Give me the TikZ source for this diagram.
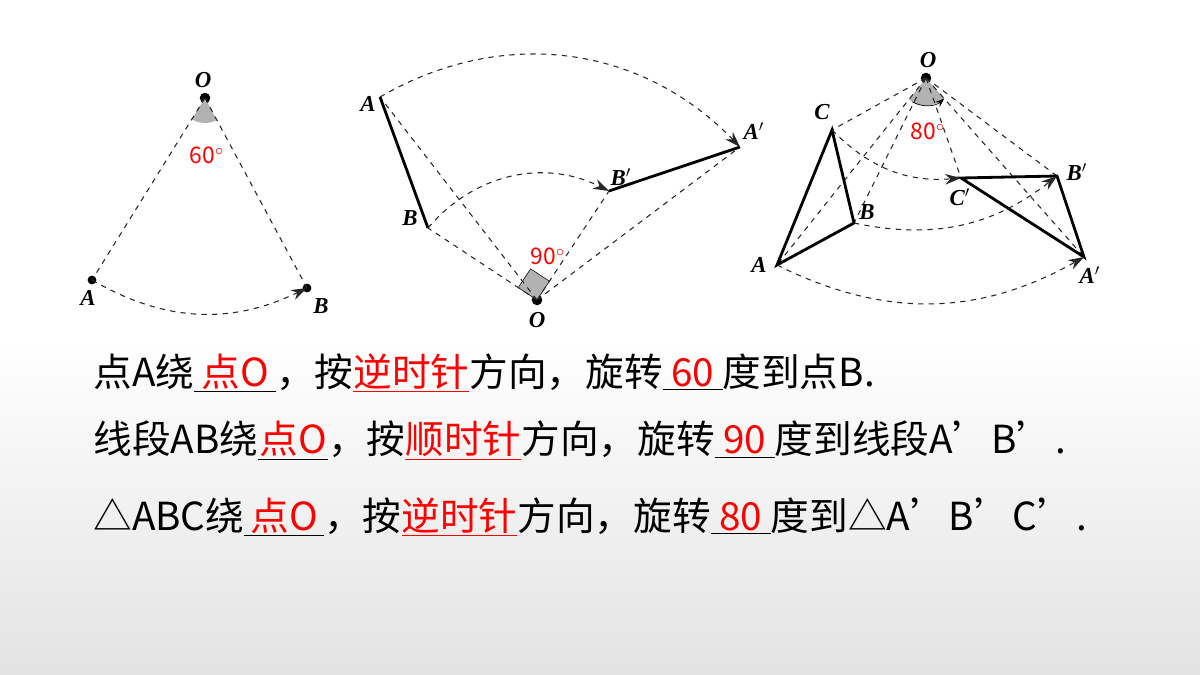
\documentclass[tikz,border=0pt]{standalone}
\usepackage{fontspec}
\setmainfont{Noto Sans CJK SC}
\newfontfamily\labfont{Liberation Serif}
\usetikzlibrary{arrows.meta}
\tikzset{
  pt/.style={circle,fill=black,inner sep=0pt,minimum size=6pt},
  lab/.style={font=\labfont\bfseries\itshape\fontsize{13}{13}\selectfont},
  ang/.style={text=red,font=\fontsize{13}{13}\selectfont},
  guide/.style={dashed,gray!30!black,line width=0.6pt},
  turn/.style={guide,-{Stealth[length=9pt,width=6pt]}},
  seg/.style={line width=1.6pt},
  row/.style={anchor=west,inner sep=0pt,font=\fontsize{22}{22}\selectfont}
}
\newcommand{\blank}[2]{\underline{\makebox[#1][c]{\textcolor{red}{#2}}}}
\begin{document}
\begin{tikzpicture}[x=0.02cm,y=-0.02cm]
\shade[top color=white,bottom color=gray!22,middle color=white] (0,0) rectangle (1200,675);
% first figure
\node[pt] (o1) at (205,98) {};
\node[pt,minimum size=5pt] (a1) at (92,280) {};
\node[pt,minimum size=5pt] (b1) at (307,288) {};
\fill[gray!60] (o1.center) -- ++(238.2:0.5cm) arc (238.2:298.2:0.5cm) -- cycle;
\node[lab] at (203,80) {O};
\node[lab] at (88,298) {A};
\node[lab] at (321,306) {B};
\node[ang] at (207,155) {60$^\circ$};
\draw[guide] (o1.center) -- (a1.center);
\draw[guide] (o1.center) -- (b1.center);
\draw[turn] (a1.center) to[bend right=28] (b1.center);
% second figure
\node[pt] (o2) at (537,300) {};
\coordinate (a2) at (380,97);
\coordinate (b2) at (428,228);
\coordinate (a2p) at (740,147);
\coordinate (b2p) at (609,191);
\fill[gray!60,draw=black,line width=0.3pt] (o2.center) -- ++(146.6:0.45cm) -- ++(56.6:0.45cm) -- ++(-33.4:0.45cm) -- cycle;
\draw[guide] (o2.center) -- (a2) (o2.center) -- (b2) (o2.center) -- (a2p) (o2.center) -- (b2p);
\draw[seg] (a2) -- (b2);
\draw[seg] (b2p) -- (a2p);
\draw[turn] (a2) to[bend left=38] (a2p);
\draw[turn] (b2) to[bend left=38] (b2p);
\node[lab] at (537,320) {O};
\node[lab] at (368,104) {A};
\node[lab] at (410,218) {B};
\node[lab] at (754,131) {A$'$};
\node[lab] at (621,177) {B$'$};
\node[ang] at (548,256) {90$^\circ$};
% third figure
\node[pt] (o3) at (926,78) {};
\coordinate (a3) at (777,265);
\coordinate (b3) at (854,223);
\coordinate (c3) at (832,130);
\coordinate (a3p) at (1084,257);
\coordinate (b3p) at (1057,176);
\coordinate (c3p) at (961,178);
\fill[gray!60] (o3.center) -- ++(231.6:0.55cm) arc (231.6:311.3:0.55cm) -- cycle;
\draw[-{Stealth[length=5pt]}] (o3.center) ++(240:0.55cm) arc (240:311.3:0.55cm);
\foreach \p in {a3,b3,c3,a3p,b3p,c3p} \draw[guide] (o3.center) -- (\p);
\draw[seg] (a3) -- (b3) -- (c3) -- cycle;
\draw[seg] (a3p) -- (b3p) -- (c3p) -- cycle;
\draw[turn] (c3) to[bend right=25] (c3p);
\draw[turn] (b3) to[bend right=25] (b3p);
\draw[turn] (a3) to[bend right=28] (a3p);
\node[lab] at (928,60) {O};
\node[lab] at (822,112) {C};
\node[lab] at (867,212) {B};
\node[lab] at (759,265) {A};
\node[lab] at (960,197) {C$'$};
\node[lab] at (1077,172) {B$'$};
\node[lab] at (1090,275) {A$'$};
\node[ang] at (928,131) {80$^\circ$};
% text rows
\node[row] (r1) at (93,373) {点A绕\blank{1.64cm}{点O}，按\textcolor{red}{\underline{逆时针}}方向，旋转\blank{1.2cm}{60}度到点B.};
\node[row] (r2) at (93,441) {线段AB绕\blank{1.4cm}{点O}，按\textcolor{red}{\underline{顺时针}}方向，旋转\blank{1.2cm}{90}度到线段A’B’.};
\node[row] (r3) at (93,517) {△ABC绕\blank{1.6cm}{点O}，按\textcolor{red}{\underline{逆时针}}方向，旋转\blank{1.2cm}{80}度到△A’B’C’.};
\end{tikzpicture}
\end{document}
